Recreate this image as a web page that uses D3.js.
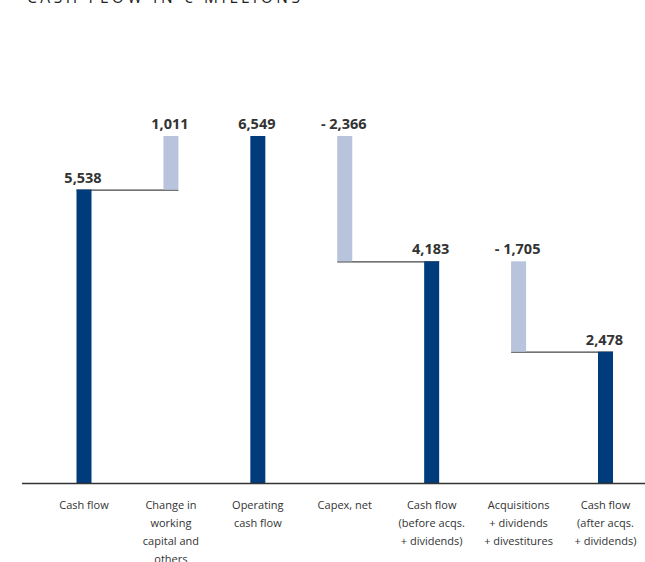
<!DOCTYPE html>
<html>
<head>
<meta charset="utf-8">
<script src="https://cdn.jsdelivr.net/npm/d3@7"></script>
<style>
  body { margin: 0; background: #fff; }
  svg { display: block; font-family: "Open Sans", "Noto Sans", sans-serif; }
</style>
</head>
<body>
<div id="chart"></div>
<script>
var width = 645;
var height = 562;

// categories and values (EUR millions)
var categories = [
  ["Cash flow"],
  ["Change in", "working", "capital and", "others"],
  ["Operating", "cash flow"],
  ["Capex, net"],
  ["Cash flow", "(before acqs.", "+ dividends)"],
  ["Acquisitions", "+ dividends", "+ divestitures"],
  ["Cash flow", "(after acqs.", "+ dividends)"]
];
var values = [5538, 1011, 6549, -2366, 4183, -1705, 2478];
var isTotal = [true, false, true, false, true, false, true];
var valueLabels = ["5,538", "1,011", "6,549", "- 2,366", "4,183", "- 1,705", "2,478"];

// build waterfall steps
var steps = [];
var running = 0;
for (var i = 0; i < values.length; i++) {
  var lo, hi;
  if (isTotal[i]) {
    lo = 0; hi = values[i]; running = values[i];
  } else {
    var next = running + values[i];
    lo = Math.min(running, next); hi = Math.max(running, next);
    running = next;
  }
  steps.push({ i: i, lo: lo, hi: hi, total: isTotal[i], label: valueLabels[i] });
}

var margin = { top: 136, bottom: 79, left: 22 };

var svg = d3.select("#chart").append("svg")
  .attr("width", width)
  .attr("height", height);

// title sits mostly above the top edge, as in the original crop
svg.append("text")
  .attr("x", 27)
  .attr("y", 3)
  .style("font-size", "15.5px")
  .style("letter-spacing", "3.6px")
  .style("fill", "#222")
  .text("CASH FLOW IN € MILLIONS");

var x = d3.scalePoint()
  .domain(d3.range(values.length))
  .range([84, 605.5]);

var y = d3.scaleLinear()
  .domain([0, 6549])
  .range([height - margin.bottom, margin.top]);

var barW = 15;

// connectors: from the left edge of a bar to the right edge of the next
var links = [[0, 1], [3, 4], [5, 6]];
svg.selectAll(".link")
  .data(links)
  .enter().append("line")
  .attr("x1", d => x(d[0]) - barW / 2)
  .attr("x2", d => x(d[1]) + barW / 2)
  .attr("y1", d => y(isTotal[d[0]] ? steps[d[0]].hi : steps[d[0]].lo) + 0.5)
  .attr("y2", d => y(isTotal[d[0]] ? steps[d[0]].hi : steps[d[0]].lo) + 0.5)
  .style("stroke", "#444")
  .style("stroke-width", 1.2);

svg.selectAll(".bar")
  .data(steps)
  .enter().append("rect")
  .attr("class", "bar")
  .attr("x", d => x(d.i) - barW / 2)
  .attr("y", d => y(d.hi))
  .attr("width", barW)
  .attr("height", d => y(d.lo) - y(d.hi))
  .style("fill", d => d.total ? "#003b7c" : "#b8c3dc");

svg.selectAll(".val")
  .data(steps)
  .enter().append("text")
  .attr("x", d => x(d.i) - 1)
  .attr("y", d => y(d.hi) - 7)
  .attr("text-anchor", "middle")
  .style("font-size", "14.5px")
  .style("font-weight", "bold")
  .style("fill", "#333")
  .text(d => d.label);

// axis line
svg.append("line")
  .attr("x1", margin.left)
  .attr("x2", width)
  .attr("y1", y(0) + 0.5)
  .attr("y2", y(0) + 0.5)
  .style("stroke", "#333")
  .style("stroke-width", 1.5);

var cat = svg.selectAll(".cat")
  .data(categories)
  .enter().append("text")
  .attr("text-anchor", "middle")
  .style("font-size", "11px")
  .style("fill", "#333");

cat.selectAll("tspan")
  .data((d, i) => d.map(t => ({ t: t, i: i })))
  .enter().append("tspan")
  .attr("x", d => x(d.i))
  .attr("y", (d, j) => 509 + j * 18)
  .text(d => d.t);
</script>
</body>
</html>
